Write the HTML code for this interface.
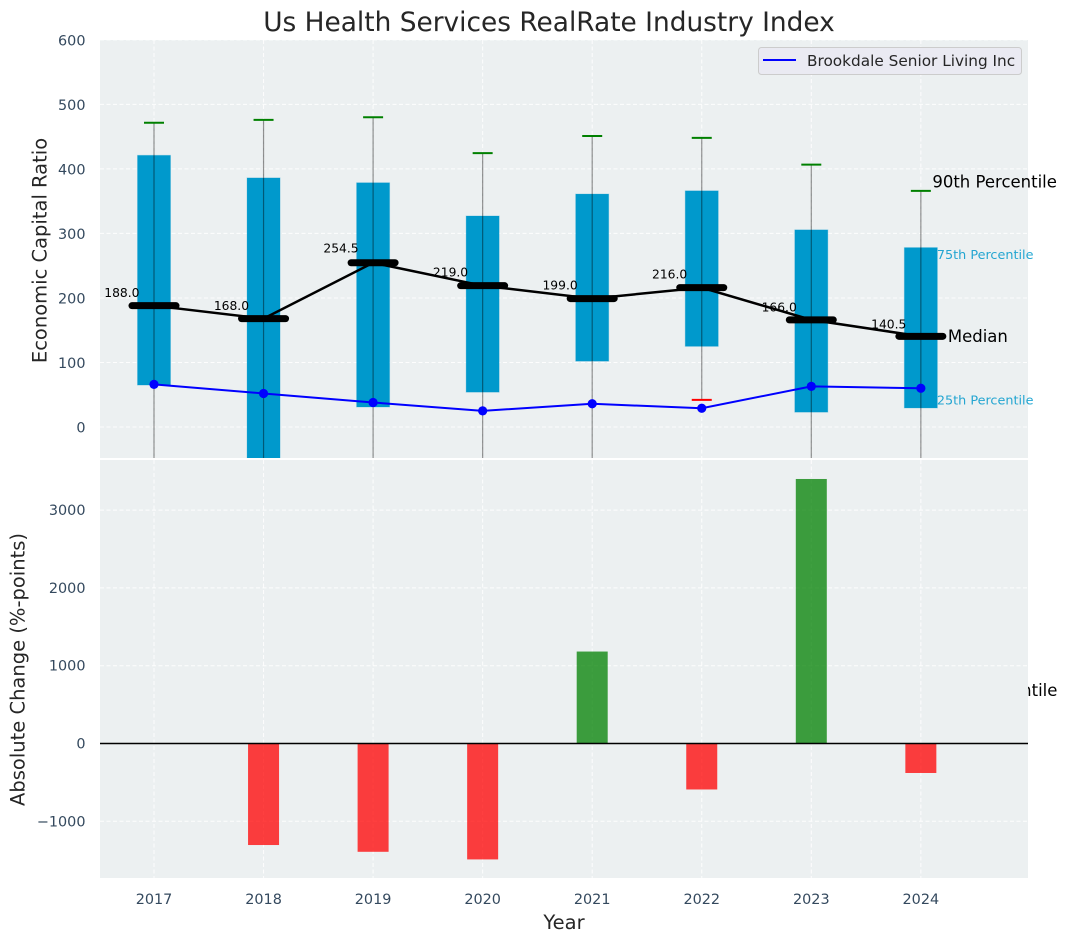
<!DOCTYPE html>
<html>
<head>
<meta charset="utf-8">
<title>Us Health Services RealRate Industry Index</title>
<style>
html,body{margin:0;padding:0;background:#fff;width:1067px;height:942px;overflow:hidden}
svg{display:block;font-family:"DejaVu Sans","Liberation Sans",sans-serif}
</style>
</head>
<body>
<svg id="chart" xmlns="http://www.w3.org/2000/svg" width="1067" height="942" viewBox="0 0 1067 942">
  <defs><clipPath id="topClip"><rect x="100" y="40" width="928" height="418"/></clipPath></defs>
  <text x="549" y="31" text-anchor="middle" font-size="26.4" fill="#262626">Us Health Services RealRate Industry Index</text>
  <g id="annotations"></g>
  <rect x="100" y="40" width="928" height="418" fill="#ecf0f1"/>
  <rect x="100" y="460" width="928" height="418" fill="#ecf0f1"/>
  <g id="grid"></g>
  <g id="top" clip-path="url(#topClip)"></g>
  <g id="bottom"></g>
  <g id="medianLabels"></g>
  <g id="ticks"></g>
  <g id="topAnnotations"></g>
  <text transform="translate(46.5,250.5) rotate(-90)" text-anchor="middle" font-size="19.5" fill="#262626">Economic Capital Ratio</text>
  <text transform="translate(24.5,669.5) rotate(-90)" text-anchor="middle" font-size="19.5" fill="#262626">Absolute Change (%-points)</text>
  <text x="564" y="929" text-anchor="middle" font-size="19.5" fill="#262626">Year</text>
  <g>
    <rect x="758.5" y="47.5" width="263" height="27" rx="3" fill="#eaeaf2" stroke="#cccccc"/>
    <line x1="763" y1="60" x2="796" y2="60" stroke="#0000ff" stroke-width="2"/>
    <text x="807" y="66" font-size="15.3" fill="#262626">Brookdale Senior Living Inc</text>
  </g>
</svg>
<script>
const years = [2017, 2018, 2019, 2020, 2021, 2022, 2023, 2024];
const p90 = [471.5, 476, 480, 424.5, 451, 448, 406.5, 366];
const p75 = [421, 386, 378.5, 327, 361, 366, 305.5, 278];
const medians = [188, 168, 254.5, 219, 199, 216, 166, 140.5];
const p25 = [65, -60, 31, 54, 102, 125, 23, 29.5];
const p10 = [-150, -280, -120, -110, -90, 42, -130, -423];
const company = [66, 52, 38, 25, 36, 29, 63, 60];
const changes = [0, -1305, -1392, -1490, 1182, -591, 3400, -379];
const topTicks = [0, 100, 200, 300, 400, 500, 600];
const bottomTicks = [-1000, 0, 1000, 2000, 3000];

const NS = 'http://www.w3.org/2000/svg';
function xPos(year) { return 154 + (year - 2017) * 109.55; }
function yTop(v) { return 427 - v * 0.6453; }
function yBot(v) { return 743.5 - v * 0.0778; }
function make(tag, parent, attrs, text) {
  const el = document.createElementNS(NS, tag);
  for (const k in attrs) el.setAttribute(k, attrs[k]);
  if (text !== undefined) el.textContent = text;
  parent.appendChild(el);
  return el;
}
const grid = document.getElementById('grid');
const top_ = document.getElementById('top');
const bottom = document.getElementById('bottom');
const ticks = document.getElementById('ticks');
const medianLabels = document.getElementById('medianLabels');
const ann = document.getElementById('annotations');
const topAnn = document.getElementById('topAnnotations');
const gridStyle = { stroke: '#ffffff', 'stroke-width': 1, 'stroke-dasharray': '4 2.5', opacity: 0.9 };

topTicks.forEach(function (t) {
  const y = yTop(t);
  const g = make('line', grid, Object.assign({ x1: 100, x2: 1028, y1: y, y2: y }, gridStyle));
  
  
  const l = make('text', ticks, { x: 85.5, y: y + 5.5, 'text-anchor': 'end', 'font-size': 14.4, fill: '#34495e' }, String(t));
  
  
});
bottomTicks.forEach(function (t) {
  const y = yBot(t);
  const g = make('line', grid, Object.assign({ x1: 100, x2: 1028, y1: y, y2: y }, gridStyle));
  
  
  const l = make('text', ticks, { x: 85.5, y: y + 5, 'text-anchor': 'end', 'font-size': 14.4, fill: '#34495e' }, String(t).replace('-', '\u2212'));
  
  
});
years.forEach(function (yr) {
  const x = xPos(yr);
  const g1 = make('line', grid, Object.assign({ x1: x, x2: x, y1: 40, y2: 458 }, gridStyle));
  
  
  const g2 = make('line', grid, Object.assign({ x1: x, x2: x, y1: 460, y2: 878 }, gridStyle));
  
  
  const l = make('text', ticks, { x: x, y: 904, 'text-anchor': 'middle', 'font-size': 14.4, fill: '#34495e' }, String(yr));
  
  
});

/* boxes */
years.forEach(function (yr, i) {
  const x = xPos(yr);
  const yt = yTop(p75[i]), yb = yTop(p25[i]);
  const box = make('rect', top_, { x: x - 16.5, y: yt, width: 33, height: yb - yt, fill: '#0099cc', stroke: '#0099cc', 'stroke-opacity': 0.25, 'stroke-width': 1 });
  
  
});
/* whiskers */
years.forEach(function (yr, i) {
  const x = xPos(yr);
  const w = make('line', top_, { x1: x, x2: x, y1: yTop(p90[i]), y2: yTop(p10[i]), stroke: '#000000', 'stroke-opacity': 0.42, 'stroke-width': 1.2 });
  
  
  const hi = make('line', top_, { x1: x - 10, x2: x + 10, y1: yTop(p90[i]), y2: yTop(p90[i]), stroke: '#008000', 'stroke-width': 2 });
  
  
  const lo = make('line', top_, { x1: x - 10, x2: x + 10, y1: yTop(p10[i]), y2: yTop(p10[i]), stroke: '#ff0000', 'stroke-width': 2 });
  
  
});
/* median line */
const medLine = make('polyline', top_, { points: years.map(function (yr, i) { return xPos(yr) + ',' + yTop(medians[i]); }).join(' '), fill: 'none', stroke: '#000000', 'stroke-width': 2.5 });


years.forEach(function (yr, i) {
  const x = xPos(yr), y = yTop(medians[i]);
  const m = make('line', top_, { x1: x - 22, x2: x + 22, y1: y, y2: y, stroke: '#000000', 'stroke-width': 7, 'stroke-linecap': 'round' });
  
  
  const l = make('text', medianLabels, { x: x - 14.5, y: y - (5 + medians[i] * 0.02), 'text-anchor': 'end', 'font-size': 12.3, fill: '#000000' }, medians[i].toFixed(1));
  
  
});
/* company line */
const compLine = make('polyline', top_, { points: years.map(function (yr, i) { return xPos(yr) + ',' + yTop(company[i]); }).join(' '), fill: 'none', stroke: '#0000ff', 'stroke-width': 2 });


years.forEach(function (yr, i) {
  const c = make('circle', top_, { cx: xPos(yr), cy: yTop(company[i]), r: 4.6, fill: '#0000ff' });
  
  
});

/* bottom bars */
years.forEach(function (yr, i) {
  const x = xPos(yr), v = changes[i];
  const y0 = yBot(0), y1 = yBot(v);
  const b = make('rect', bottom, { x: x - 15.5, y: Math.min(y0, y1), width: 31, height: Math.abs(y1 - y0), fill: v >= 0 ? '#008000' : '#ff0000', opacity: 0.75 });
  
  
});
const zero = make('line', bottom, { x1: 100, x2: 1028, y1: yBot(0), y2: yBot(0), stroke: '#000000', 'stroke-width': 1.5 });



/* annotations on the last year */
const last = years.length - 1;
const lx = xPos(years[last]);
const a10 = make('text', ann, { x: lx + 12, y: yTop(p10[last]) - 4, 'font-size': 16.5, fill: '#000000' }, '10th Percentile');


const a90 = make('text', topAnn, { x: lx + 11.5, y: yTop(p90[last]) - 3.5, 'font-size': 16.5, fill: '#000000' }, '90th Percentile');


const aMed = make('text', topAnn, { x: lx + 27, y: yTop(medians[last]) + 5.5, 'font-size': 16.5, fill: '#000000' }, 'Median');


const a75 = make('text', topAnn, { x: lx + 16, y: yTop(p75[last]) + 11.5, 'font-size': 12.8, fill: '#0099cc', opacity: 0.85 }, '75th Percentile');


const a25 = make('text', topAnn, { x: lx + 16, y: yTop(p25[last]) - 3.5, 'font-size': 12.8, fill: '#0099cc', opacity: 0.85 }, '25th Percentile');


</script>
</body>
</html>
